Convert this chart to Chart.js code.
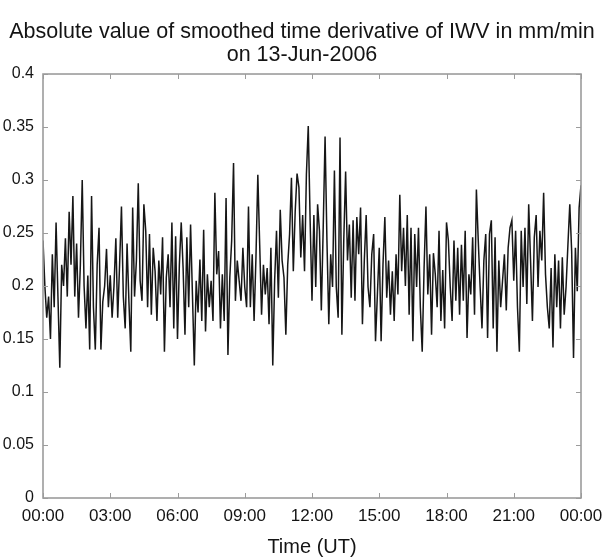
<!DOCTYPE html>
<html>
<head>
<meta charset="utf-8">
<script src="https://cdn.jsdelivr.net/npm/chart.js@4.4.0/dist/chart.umd.min.js"></script>
<style>
  html, body { margin: 0; padding: 0; background: #fff; }
  #wrap { width: 604px; height: 560px; }
</style>
</head>
<body>
<div id="wrap"><canvas id="iwvChart" width="604" height="560"></canvas></div>
<script>
// Chart text
const titleLines = ['Absolute value of smoothed time derivative of IWV in mm/min', 'on 13-Jun-2006'];
const xAxisTitle = 'Time (UT)';

// Axis ticks (minutes since 00:00 UT, and mm/min)
const xTickMinutes = [0, 180, 360, 540, 720, 900, 1080, 1260, 1440];
const xTickLabels = ['00:00', '03:00', '06:00', '09:00', '12:00', '15:00', '18:00', '21:00', '00:00'];
const yTickValues = [0, 0.05, 0.1, 0.15, 0.2, 0.25, 0.3, 0.35, 0.4];
const yTickLabels = ['0', '0.05', '0.1', '0.15', '0.2', '0.25', '0.3', '0.35', '0.4'];

const stepMinutes = 5;
const block1 = [0.243, 0.200, 0.170, 0.190, 0.150, 0.230, 0.180, 0.260, 0.190, 0.123,
                0.220, 0.200, 0.245, 0.190, 0.270, 0.220, 0.285, 0.190, 0.240, 0.170,
                0.220, 0.300, 0.200, 0.160, 0.210, 0.140, 0.285, 0.180, 0.140, 0.220,
                0.255, 0.140, 0.185, 0.200, 0.235, 0.180, 0.210, 0.170, 0.200, 0.245,
                0.170, 0.220, 0.275, 0.190, 0.160, 0.240, 0.185];
const block2 = [0.138, 0.274, 0.190, 0.224, 0.297, 0.205, 0.186, 0.277, 0.252, 0.180,
                0.249, 0.173, 0.236, 0.214, 0.167, 0.224, 0.192, 0.246, 0.138, 0.208,
                0.230, 0.180, 0.260, 0.160, 0.247, 0.150, 0.220, 0.260, 0.217, 0.154,
                0.246, 0.180, 0.258, 0.192, 0.125, 0.205, 0.175, 0.225, 0.167, 0.253,
                0.157, 0.211, 0.180, 0.205, 0.167, 0.288, 0.211, 0.233, 0.160];
const block3 = [0.211, 0.167, 0.283, 0.135, 0.208, 0.243, 0.316, 0.186, 0.224, 0.205,
                0.186, 0.236, 0.199, 0.180, 0.275, 0.180, 0.230, 0.167, 0.227, 0.305,
                0.239, 0.173, 0.220, 0.192, 0.217, 0.164, 0.236, 0.125, 0.205, 0.252,
                0.189, 0.272, 0.224, 0.208, 0.154, 0.220, 0.249, 0.302, 0.214, 0.270,
                0.306, 0.293, 0.227, 0.267, 0.214, 0.305];
const block4 = [0.351, 0.262, 0.186, 0.267, 0.199, 0.277, 0.252, 0.177, 0.255, 0.341,
                0.243, 0.164, 0.230, 0.199, 0.309, 0.199, 0.170, 0.340, 0.154, 0.243,
                0.308, 0.224, 0.258, 0.189, 0.262, 0.186, 0.265, 0.230, 0.274, 0.164,
                0.224, 0.267, 0.199, 0.180, 0.230, 0.249, 0.148, 0.192, 0.236, 0.148,
                0.220, 0.265, 0.189, 0.224, 0.173, 0.214, 0.167, 0.230, 0.192, 0.286];
const block5 = [0.214, 0.255, 0.200, 0.267, 0.173, 0.255, 0.148, 0.249, 0.199, 0.255,
                0.180, 0.138, 0.217, 0.275, 0.192, 0.230, 0.154, 0.231, 0.211, 0.180,
                0.252, 0.167, 0.215, 0.160, 0.260, 0.243, 0.199, 0.167, 0.243, 0.186,
                0.236, 0.173, 0.239, 0.186, 0.252, 0.151, 0.211, 0.192, 0.246, 0.173,
                0.291, 0.243, 0.199, 0.160, 0.224, 0.249, 0.151, 0.249, 0.262];
const block6 = [0.160, 0.246, 0.138, 0.224, 0.180, 0.205, 0.230, 0.177, 0.236, 0.255,
                0.262, 0.205, 0.252, 0.180, 0.138, 0.252, 0.199, 0.255, 0.183, 0.277,
                0.224, 0.167, 0.246, 0.267, 0.199, 0.252, 0.224, 0.288, 0.211, 0.180,
                0.160, 0.217, 0.142, 0.230, 0.180, 0.224, 0.160, 0.227, 0.173, 0.199,
                0.239, 0.277, 0.233, 0.132, 0.236, 0.195, 0.274, 0.295];

const rate = [].concat(block1, block2, block3, block4, block5, block6);
const points = rate.map((v, i) => ({ x: i * stepMinutes, y: v }));

const FONT = "'Liberation Sans', Arial, Helvetica, sans-serif";
const TEXT = '#141414';

// boxed frame with inward ticks, like the original matlab figure
const framePlugin = {
  id: 'frame',
  afterDatasetsDraw(chart) {
    const { ctx, chartArea: a, scales: { x, y } } = chart;
    ctx.save();
    ctx.strokeStyle = '#9c9c9c';
    ctx.lineWidth = 1;
    ctx.beginPath();
    xTickMinutes.forEach(m => {
      const px = Math.round(x.getPixelForValue(m)) + 0.5;
      ctx.moveTo(px, a.bottom); ctx.lineTo(px, a.bottom - 5);
      ctx.moveTo(px, a.top); ctx.lineTo(px, a.top + 5);
    });
    yTickValues.forEach(v => {
      const py = Math.round(y.getPixelForValue(v)) + 0.5;
      ctx.moveTo(a.left, py); ctx.lineTo(a.left + 5, py);
      ctx.moveTo(a.right, py); ctx.lineTo(a.right - 5, py);
    });
    ctx.stroke();
    ctx.lineWidth = 1.6;
    ctx.strokeRect(a.left, a.top, a.right - a.left, a.bottom - a.top);
    ctx.restore();
  }
};

new Chart(document.getElementById('iwvChart'), {
  type: 'line',
  data: {
    datasets: [{
      label: '|dIWV/dt|',
      data: points,
      borderColor: '#161616',
      borderWidth: 1.5,
      pointRadius: 0,
      tension: 0,
      fill: false
    }]
  },
  options: {
    responsive: false,
    animation: false,
    devicePixelRatio: 1,
    layout: { padding: 0 },
    plugins: {
      legend: { display: false },
      tooltip: { enabled: false },
      title: {
        display: true,
        text: titleLines,
        color: TEXT,
        font: { family: FONT, size: 21.5, weight: 'normal', lineHeight: 1.07 },
        padding: { top: 20.5, bottom: 7.5 }
      }
    },
    scales: {
      x: {
        type: 'linear',
        min: 0,
        max: 1440,
        grid: { display: false, drawTicks: false },
        border: { display: false },
        afterBuildTicks: s => { s.ticks = xTickMinutes.map(v => ({ value: v })); },
        // last "00:00" runs off the right edge in the original, so no extra room
        afterFit: s => { s.height = 62; s.paddingRight = 0; s.paddingLeft = 0; },
        ticks: {
          padding: 8,
          maxRotation: 0,
          autoSkip: false,
          color: TEXT,
          font: { family: FONT, size: 17 },
          callback: (v) => xTickLabels[xTickMinutes.indexOf(v)]
        },
        title: {
          display: true,
          text: xAxisTitle,
          color: TEXT,
          font: { family: FONT, size: 20, lineHeight: 1.2 },
          padding: { top: 0, bottom: 1 }
        }
      },
      y: {
        min: 0,
        max: 0.4,
        grid: { display: false, drawTicks: false },
        border: { display: false },
        afterBuildTicks: s => { s.ticks = yTickValues.map(v => ({ value: v })); },
        afterFit: s => { s.width = 43; },
        ticks: {
          padding: 9,
          color: TEXT,
          font: { family: FONT, size: 16 },
          callback: (v) => yTickLabels[yTickValues.indexOf(v)]
        }
      },
      // empty right-hand strip so the frame ends where the original one does
      yRight: {
        position: 'right',
        min: 0,
        max: 0.4,
        grid: { display: false, drawTicks: false },
        border: { display: false },
        ticks: { display: false },
        afterFit: s => { s.width = 23; }
      }
    }
  },
  plugins: [framePlugin]
});
</script>
</body>
</html>
